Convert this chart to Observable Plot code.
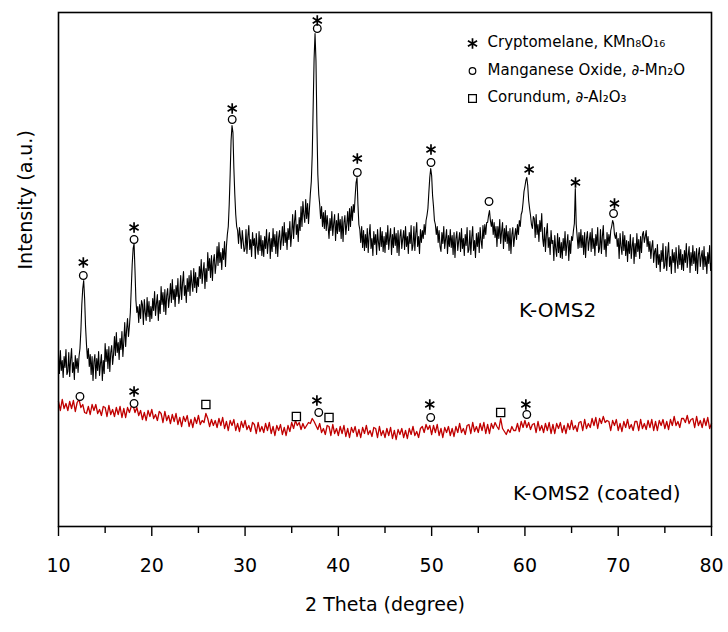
<!DOCTYPE html>
<html>
<head>
<meta charset="utf-8">
<script src="https://cdn.jsdelivr.net/npm/d3@7"></script>
<script src="https://cdn.jsdelivr.net/npm/@observablehq/plot@0.6"></script>
<style>
  html, body { margin: 0; padding: 0; background: #fff; }
</style>
</head>
<body>
<div id="chart"></div>
<script>
// ---- data (2θ scan, arbitrary intensity units) ----
const thetaStart = 10;
const komsStep = 0.1;
const komsIntensity = [
  172,153,176,156,166,149,170,159,177,152,
  155,174,150,167,178,154,164,147,171,158,
  168,154,170,178,196,222,238,246,228,200,
  182,168,178,160,172,152,170,146,165,172,
  148,168,156,175,151,163,172,146,166,153,
  183,165,177,158,180,155,174,181,162,172,
  190,171,194,174,184,167,188,177,195,170,
  185,204,180,197,208,190,200,214,238,262,
  278,283,256,226,214,220,204,222,208,226,
  222,202,227,214,206,229,210,225,205,220,
  208,228,216,235,211,223,232,206,226,213,
  240,222,234,215,237,212,231,238,219,229,
  243,224,247,227,237,220,241,230,248,223,
  232,251,227,244,255,231,241,224,248,235,
  251,231,256,243,235,258,239,254,234,249,
  240,260,248,267,243,255,264,238,258,245,
  274,256,268,249,271,246,265,272,253,263,
  280,261,284,264,274,257,278,267,285,260,
  280,292,300,322,352,386,401,394,358,332,
  312,300,296,283,299,290,278,296,285,275,
  278,297,273,290,301,277,287,270,294,281,
  288,268,293,280,272,295,276,291,271,286,
  270,290,278,297,273,285,294,268,288,275,
  298,280,292,273,295,270,289,296,277,287,
  300,281,304,284,294,277,298,287,305,280,
  293,312,288,305,316,292,302,285,309,296,
  320,300,325,312,304,327,308,323,303,318,
  333,345,372,420,468,493,466,402,352,332,
  322,308,320,300,314,298,316,296,311,300,
  288,308,296,315,291,303,312,286,306,293,
  313,295,307,288,310,285,304,311,292,302,
  315,296,318,300,320,306,322,314,330,344,
  349,322,302,297,284,300,279,296,276,292,
  279,298,274,291,302,278,288,271,295,282,
  292,272,297,284,276,299,280,295,275,290,
  274,294,282,301,277,289,298,272,292,279,
  299,281,293,274,296,271,290,297,278,288,
  296,277,300,280,290,273,294,283,301,276,
  281,300,276,293,304,280,290,273,297,284,
  296,288,302,292,306,311,318,334,349,358,
  351,331,320,306,302,292,300,284,296,280,
  275,294,283,300,278,288,297,273,291,280,
  297,279,291,272,294,269,288,295,276,286,
  294,275,298,278,288,271,292,281,299,274,
  277,296,272,289,300,276,286,269,293,280,
  294,274,299,286,278,301,288,302,292,304,
  304,311,316,306,300,307,292,304,289,300,
  280,300,288,307,283,295,304,278,298,285,
  301,283,295,276,298,273,292,299,280,290,
  298,287,302,292,306,300,312,315,324,335,
  340,346,349,341,326,318,311,302,298,310,
  308,289,312,292,302,285,306,295,313,288,
  280,299,275,292,303,279,289,272,296,283,
  286,266,291,278,270,293,274,289,269,284,
  268,288,276,295,271,283,292,266,286,273,
  290,286,296,303,338,302,290,278,294,279,
  297,279,291,272,294,269,288,295,276,286,
  294,275,298,278,288,271,292,281,299,274,
  278,297,273,290,301,277,287,270,294,281,
  292,283,296,300,306,303,292,288,294,280,
  288,268,293,280,272,295,276,291,271,286,
  265,285,273,292,268,280,289,263,283,270,
  293,275,287,268,290,274,292,295,284,290,
  296,280,290,275,285,268,280,286,264,275,
  278,259,282,262,272,255,276,265,283,258,
  261,280,256,273,284,260,270,253,277,264,
  274,254,279,266,258,281,262,277,257,272,
  256,276,264,283,259,271,280,254,274,261,
  281,263,275,256,278,253,272,279,260,270,
  276,257,280,260,270,253,274,263,281,256,
  264
];

const coatedStep = 0.2;
const coatedIntensity = [
  125,116,127,118,123, 116,125,118,126,115,
  124,127,119,122,114, 113,120,112,122,116,
  122,113,117,111,120, 119,110,121,112,117,
  110,119,112,120,109, 118,109,119,114,120,
  121,114,119,111,116, 107,114,106,116,110,
  117,108,112,106,115, 113,104,115,106,111,
  103,112,105,113,102, 109,100,110,105,111,
  100,107,99,109,103, 111,102,106,104,113,
  108,100,107,101,106, 99,108,101,109,98,
  105,96,106,101,107, 96,103,95,105,99,
  106,97,101,95,104, 102,93,104,95,100,
  94,103,96,104,93, 100,91,101,96,102,
  92,99,91,101,95, 104,98,106,101,104,
  97,103,98,101,104, 103,108,105,101,97,
  103,94,98,92,101, 100,91,102,93,98,
  91,100,93,101,90, 98,89,99,94,100,
  90,97,89,99,93, 101,92,96,90,99,
  98,89,100,91,96, 89,98,91,99,88,
  96,87,97,92,98, 89,96,88,98,92,
  100,91,95,89,98, 100,94,102,97,101,
  92,101,94,102,91, 98,89,99,94,100,
  91,98,90,100,94, 103,94,98,92,101,
  102,93,104,95,100, 94,103,96,104,93,
  102,93,103,98,104, 100,97,108,98,95,
  92,97,94,100,96, 96,103,95,105,99,
  106,99,104,97,102, 103,94,105,96,101,
  94,103,96,104,93, 102,93,103,98,104,
  94,101,93,103,97, 106,97,101,95,104,
  105,96,107,98,103, 99,108,101,109,98,
  108,103,110,104,106, 105,96,106,101,107,
  96,103,95,105,99, 107,98,102,96,105,
  105,96,107,98,103, 97,106,99,107,96,
  105,96,106,101,107, 98,105,97,107,101,
  110,101,105,99,108, 108,104,111,103,107,
  108,99,110,101,106, 99,108,101,109,98,
  103
];

// phase markers
const starTheta  = [12.66, 18.1, 28.62, 37.74, 42.03, 49.93, 60.45, 65.42, 69.6, 18.1, 37.7, 49.8, 60.1];
const starY      = [264, 299, 418, 506, 368, 377, 357, 344, 323, 135, 126, 122, 122];
const circleTheta = [12.66, 18.1, 28.62, 37.74, 42.03, 49.93, 56.15, 69.5, 12.3, 18.1, 37.9, 49.9, 60.2];
const circleY     = [251, 287, 407, 498, 354, 364, 325, 313, 130, 123, 114, 109, 112];
const squareTheta = [25.8, 35.5, 39.0, 57.4];
const squareY     = [122, 110, 109, 114];

const majorTicks = [10, 20, 30, 40, 50, 60, 70, 80];
const minorTicks = [15, 25, 35, 45, 55, 65, 75];

const legendLabels = ["Cryptomelane, KMn\u2088O\u2081\u2086", "Manganese Oxide, \u2202-Mn\u2082O", "Corundum, \u2202-Al\u2082O\u2083"];
const legendSymbols = ["asterisk", "circle", "square"];
const sampleLabels = ["K-OMS2", "K-OMS2 (coated)"];

// ---- build tables ----
const koms = komsIntensity.map((v, i) => ({theta: Math.round((thetaStart + i * komsStep) * 100) / 100, intensity: v}));
const coated = coatedIntensity.map((v, i) => ({theta: Math.round((thetaStart + i * coatedStep) * 100) / 100, intensity: v}));
const stars = starTheta.map((t, i) => ({theta: t, y: starY[i]}));
const circles = circleTheta.map((t, i) => ({theta: t, y: circleY[i]}));
const squares = squareTheta.map((t, i) => ({theta: t, y: squareY[i]}));

const font = "DejaVu Sans";

const legendMarks = legendLabels.flatMap((label, i) => [
  Plot.dot([label], {
    frameAnchor: "top-right", dx: -239, dy: 31 + i * 27.5,
    symbol: legendSymbols[i],
    r: legendSymbols[i] === "asterisk" ? 5 : legendSymbols[i] === "square" ? 4.4 : 3.3,
    stroke: "black", strokeWidth: legendSymbols[i] === "asterisk" ? 1.7 : 1.2,
    fill: legendSymbols[i] === "asterisk" ? "none" : "white"
  }),
  Plot.text([label], {
    text: d => d, frameAnchor: "top-right", dx: -224, dy: 30 + i * 27.5,
    textAnchor: "start", lineAnchor: "middle", fontSize: 15, fill: "black"
  })
]);

const chart = Plot.plot({
  width: 728,
  height: 632,
  marginLeft: 58,
  marginRight: 17,
  marginTop: 12,
  marginBottom: 106,
  style: {fontFamily: font, fontSize: "19px", background: "white", color: "black"},
  x: {domain: [10, 80]},
  y: {domain: [0, 514], axis: null},
  marks: [
    Plot.line(coated, {x: "theta", y: "intensity", stroke: "#c00000", strokeWidth: 1.3}),
    Plot.line(koms, {x: "theta", y: "intensity", stroke: "black", strokeWidth: 1.1}),
    Plot.dot(circles, {x: "theta", y: "y", r: 3.8, stroke: "black", fill: "white", strokeWidth: 1.3}),
    Plot.dot(squares, {x: "theta", y: "y", symbol: "square", r: 4.6, stroke: "black", fill: "white", strokeWidth: 1.3}),
    Plot.dot(stars, {x: "theta", y: "y", symbol: "asterisk", r: 5, stroke: "black", strokeWidth: 1.7}),
    Plot.text([sampleLabels[0]], {text: d => d, x: 63.5, y: 216, fontSize: 20, fill: "black"}),
    Plot.text([sampleLabels[1]], {text: d => d, x: 67.7, y: 33, fontSize: 20, fill: "black"}),
    ...legendMarks,
    Plot.axisX({ticks: majorTicks, tickSize: 10, tickPadding: 22, strokeWidth: 1.4, label: null, fontSize: 19, tickFormat: d => String(d)}),
    Plot.axisX({ticks: minorTicks, tickSize: 7, strokeWidth: 1.4, label: null, tickFormat: () => ""}),
    Plot.text(["2 Theta (degree)"], {text: d => d, frameAnchor: "bottom", dy: 84, fontSize: 19, fill: "black"}),
    Plot.text(["Intensity (a.u.)"], {text: d => d, frameAnchor: "left", dx: -33, rotate: -90, fontSize: 19, fill: "black"}),
    Plot.frame({stroke: "black", strokeWidth: 1.6})
  ]
});

document.getElementById("chart").append(chart);
</script>
</body>
</html>
